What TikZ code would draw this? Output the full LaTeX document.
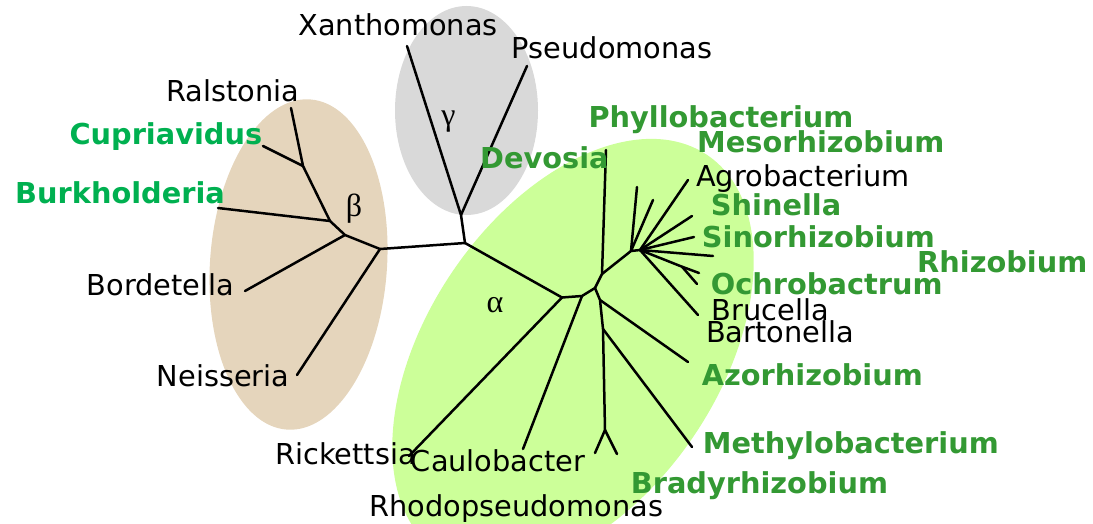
\documentclass[tikz,border=0pt]{standalone}
\usepackage{fontspec}
\setmainfont{DejaVu Sans}
\newfontfamily\greekfont{Liberation Serif}
\definecolor{tanc}{RGB}{229,213,188}
\definecolor{greyc}{RGB}{217,217,217}
\definecolor{greenc}{RGB}{204,255,153}
\definecolor{brgreen}{RGB}{0,176,80}
\definecolor{dkgreen}{RGB}{51,153,51}
\begin{document}
\begin{tikzpicture}[x=1pt,y=-1pt,
  lbl/.style={anchor=base west, inner sep=0pt, font=\fontsize{28.8}{34}\selectfont},
  glbl/.style={anchor=base west, inner sep=0pt, font=\fontsize{28.8}{34}\selectfont\bfseries, text=dkgreen},
  bglbl/.style={glbl, text=brgreen},
  br/.style={line width=2.5pt, line cap=round, line join=round},
  greek/.style={inner sep=0pt, font=\greekfont\fontsize{32}{36}\selectfont}]
\useasboundingbox (0,0) rectangle (1093,524);
% clade ellipses
\fill[tanc, rotate around={-4:(298.5,264.5)}] (298.5,264.5) ellipse [x radius=88.5pt, y radius=165.5pt];
\fill[greyc] (466.5,110.5) ellipse [x radius=71.5pt, y radius=104.5pt];
\fill[greenc, rotate around={56:(573,354)}] (573,354) ellipse [x radius=240pt, y radius=146pt];
% tree coordinates
\coordinate (C) at (465,243);
\coordinate (G0) at (461,215);
\coordinate (tXan) at (407,46);
\coordinate (tPse) at (527,66);
\coordinate (B0) at (380,249);
\coordinate (B1) at (345,235);
\coordinate (B2) at (330,221);
\coordinate (B3) at (303,166);
\coordinate (tRal) at (291,108);
\coordinate (tCup) at (263,146);
\coordinate (tBur) at (218,208);
\coordinate (tBor) at (245,291);
\coordinate (tNei) at (297,375);
\coordinate (A1) at (562,297.5);
\coordinate (A2) at (582,296);
\coordinate (A3) at (595,288);
\coordinate (A4) at (602,274);
\coordinate (tDev) at (606,150);
\coordinate (A5) at (631,251);
\coordinate (tX1) at (637,187);
\coordinate (tX2) at (653,200);
\coordinate (A6) at (640,250);
\coordinate (tAgr) at (688,180);
\coordinate (tShi) at (692,216);
\coordinate (tSin) at (694,237);
\coordinate (tRhi) at (713,256);
\coordinate (A7) at (682,266.7);
\coordinate (tOch1) at (699,273);
\coordinate (tOch2) at (697,284);
\coordinate (tBru) at (698,315);
\coordinate (A8) at (600,300);
\coordinate (tAzo) at (688,362);
\coordinate (A9) at (603,329);
\coordinate (tMet) at (692,447);
\coordinate (A10) at (605,430);
\coordinate (tBr1) at (595,453);
\coordinate (tBr2) at (617,454);
\coordinate (tRic) at (409,456);
\coordinate (tCau) at (523,449);
% branches
\draw[br] (C) -- (G0) -- (tXan);
\draw[br] (G0) -- (tPse);
\draw[br] (C) -- (B0) -- (B1) -- (B2) -- (B3) -- (tRal);
\draw[br] (B3) -- (tCup);
\draw[br] (B2) -- (tBur);
\draw[br] (B1) -- (tBor);
\draw[br] (B0) -- (tNei);
\draw[br] (C) -- (A1) -- (A2) -- (A3) -- (A4) -- (tDev);
\draw[br] (A4) -- (A5) -- (A6) -- (tAgr);
\draw[br] (A5) -- (tX1);
\draw[br] (A5) -- (tX2);
\draw[br] (A6) -- (tShi);
\draw[br] (A6) -- (tSin);
\draw[br] (A6) -- (tRhi);
\draw[br] (A6) -- (A7) -- (tOch1);
\draw[br] (A7) -- (tOch2);
\draw[br] (A6) -- (tBru);
\draw[br] (A3) -- (A8) -- (A9) -- (A10) -- (tBr1);
\draw[br] (A10) -- (tBr2);
\draw[br] (A8) -- (tAzo);
\draw[br] (A9) -- (tMet);
\draw[br] (A1) -- (tRic);
\draw[br] (A2) -- (tCau);
% clade letters
\node[greek] (gam) at (448.5,122) {γ};
\node[greek] (bet) at (354,209) {β};
\node[greek] (alp) at (495,305) {α};
% labels
\node[lbl] (Xan) at (298.3,36) {Xanthomonas};
\node[lbl] (Pse) at (511.7,58.3) {Pseudomonas};
\node[lbl] (Ral) at (166,101.7) {Ralstonia};
\node[bglbl] (Cup) at (69.3,145) {Cupriavidus};
\node[bglbl] (Bur) at (15,204) {Burkholderia};
\node[lbl] (Bor) at (86.7,295.7) {Bordetella};
\node[lbl] (Nei) at (156.7,386) {Neisseria};
\node[lbl] (Ric) at (275,464) {Rickettsia};
\node[lbl] (Cau) at (410.7,471.7) {Caulobacter};
\node[lbl] (Rho) at (369.3,516.7) {Rhodopseudomonas};
\node[glbl] (Bra) at (630.7,493.3) {Bradyrhizobium};
\node[glbl] (Met) at (702.7,453.3) {Methylobacterium};
\node[glbl] (Azo) at (701.7,385) {Azorhizobium};
\node[lbl] (Bart) at (706,342) {Bartonella};
\node[lbl] (Bru) at (711.7,320) {Brucella};
\node[glbl] (Och) at (710.7,294) {Ochrobactrum};
\node[glbl] (Rhi) at (917,272) {Rhizobium};
\node[glbl] (Sin) at (701.7,247) {Sinorhizobium};
\node[glbl] (Shi) at (710.7,215) {Shinella};
\node[lbl] (Agr) at (696,186) {Agrobacterium};
\node[glbl] (Mes) at (697,153) {Mesorhizobium};
\node[glbl] (Phy) at (588.3,127.7) {Phyllobacterium};
\node[glbl] (Dev) at (480,168.3) {Devosia};
\end{tikzpicture}
\end{document}
